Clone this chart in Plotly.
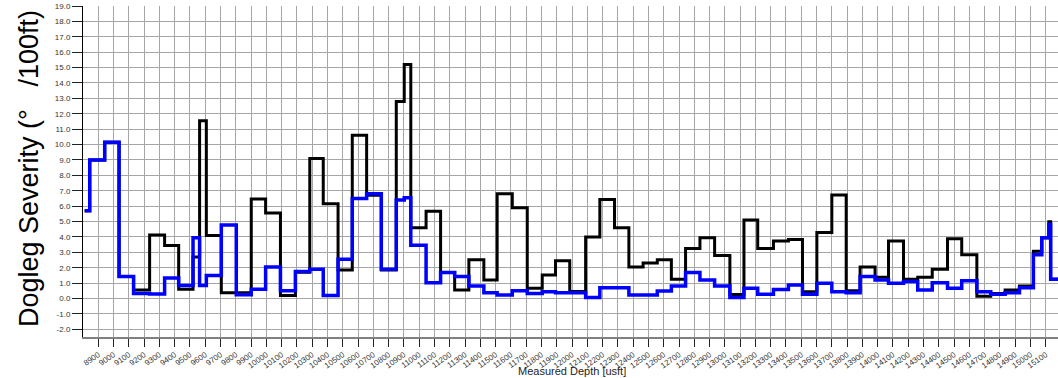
import plotly.graph_objects as go

# Survey stations (step starts) in measured depth, last value is the end of the final step
md = [8811, 8844, 8942, 9036, 9131, 9236, 9334, 9426, 9520, 9563, 9607, 9705, 9803, 9901,
      9995, 10092, 10190, 10284, 10372, 10469, 10562, 10656, 10752, 10850, 10902, 10945,
      11045, 11140, 11232, 11325, 11423, 11510, 11609, 11707, 11805, 11892, 11985, 12089,
      12182, 12278, 12372, 12465, 12558, 12650, 12743, 12837, 12933, 13033, 13125, 13215,
      13318, 13416, 13508, 13602, 13700, 13794, 13885, 13983, 14071, 14169, 14262, 14357,
      14457, 14550, 14649, 14740, 14834, 14928, 15019, 15074, 15120, 15132, 15180]

dls_black = [5.7, 9.0, 10.15, 1.43, 0.55, 4.12, 3.44, 0.6, 2.7, 11.55, 4.1, 0.37, 0.37, 6.47,
             5.55, 0.2, 1.7, 9.1, 6.15, 1.86, 10.6, 6.7, 1.85, 12.8, 15.2, 4.6,
             5.66, 1.69, 0.55, 2.52, 1.2, 6.8, 5.9, 0.66, 1.53, 2.45, 0.45, 4.0,
             6.43, 4.6, 2.04, 2.3, 2.52, 1.25, 3.25, 3.95, 2.8, 0.26, 5.1, 3.25,
             3.73, 3.84, 0.44, 4.28, 6.73, 0.5, 2.04, 1.38, 3.73, 1.25, 1.38, 1.9,
             3.88, 2.85, 0.15, 0.33, 0.55, 0.81, 3.07, 3.95, 4.98, 1.25]

dls_blue = [5.7, 9.0, 10.15, 1.43, 0.33, 0.3, 1.33, 0.85, 3.95, 0.85, 1.5, 4.78, 0.25, 0.6,
            2.04, 0.5, 1.75, 1.9, 0.2, 2.55, 6.5, 6.8, 1.9, 6.4, 6.55, 3.46,
            1.03, 1.69, 1.43, 0.81, 0.37, 0.22, 0.5, 0.33, 0.44, 0.37, 0.37, 0.07,
            0.7, 0.7, 0.22, 0.22, 0.48, 0.81, 1.69, 1.2, 0.81, 0.07, 0.66, 0.28,
            0.59, 0.88, 0.28, 0.99, 0.44, 0.37, 1.43, 1.2, 0.99, 1.1, 0.55, 1.03,
            0.66, 1.16, 0.44, 0.28, 0.37, 0.7, 2.85, 3.95, 4.82, 1.25]

x_tick_vals = list(range(8900, 15101, 100))
x_tick_text = [str(v) for v in x_tick_vals]
y_tick_vals = list(range(-2, 20))
y_tick_text = ["%.1f" % v for v in y_tick_vals]

x_title = "Measured Depth [usft]"
y_title = "Dogleg Severity (°\u00a0\u00a0\u00a0/100ft)"

font_family = "Liberation Sans, Arial, sans-serif"

W, H = 1058, 378
ML, MR, MT, MB = 83, 0, 6, 41
plot_w = W - ML - MR
plot_h = H - MT - MB

fig = go.Figure()
fig.add_trace(go.Scatter(x=md, y=dls_black + [dls_black[-1]], mode="lines",
                         line=dict(color="#000000", width=3, shape="hv"),
                         name="Actual", hoverinfo="x+y"))
fig.add_trace(go.Scatter(x=md, y=dls_blue + [dls_blue[-1]], mode="lines",
                         line=dict(color="#0000ff", width=3.5, shape="hv"),
                         name="Plan", hoverinfo="x+y"))

fig.update_layout(
    width=W, height=H,
    margin=dict(l=ML, r=MR, t=MT, b=MB, pad=0),
    paper_bgcolor="white", plot_bgcolor="white",
    showlegend=False,
    font=dict(family=font_family, color="#333333"),
    xaxis=dict(
        range=[8800, 15180], automargin=False,
        tickmode="array", tickvals=x_tick_vals, ticktext=x_tick_text,
        tickangle=-35, tickfont=dict(size=8, color="#333333"),
        showgrid=True, gridcolor="#a6a6a6", gridwidth=1,
        showline=True, linecolor="#808080", linewidth=2,
        ticks="outside", ticklen=8, tickcolor="#222222", tickwidth=1,
        zeroline=False,
    ),
    yaxis=dict(
        range=[-2.5, 19.0], automargin=False,
        tickmode="array", tickvals=y_tick_vals, ticktext=y_tick_text,
        tickfont=dict(size=8, color="#333333"),
        showgrid=True, gridcolor="#a6a6a6", gridwidth=1,
        showline=True, linecolor="#000000", linewidth=1,
        ticks="outside", ticklen=10, tickcolor="#222222", tickwidth=1,
        zeroline=False,
    ),
    annotations=[
        dict(text=x_title, xref="paper", yref="paper",
             x=(572 - ML) / plot_w, y=-(371 - (H - MB)) / plot_h,
             xanchor="center", yanchor="middle", showarrow=False,
             font=dict(size=11, color="#222222", family=font_family)),
        dict(text=y_title, xref="paper", yref="paper",
             x=-(ML - 29) / plot_w, y=(H - MB - 169) / plot_h,
             xanchor="center", yanchor="middle", showarrow=False, textangle=-90,
             font=dict(size=27, color="#000000", family=font_family)),
    ],
)

fig.write_html(
    "out.html",
    config={"displayModeBar": False},
    post_script="document.body.style.margin='0';document.body.style.overflow='hidden';",
)
